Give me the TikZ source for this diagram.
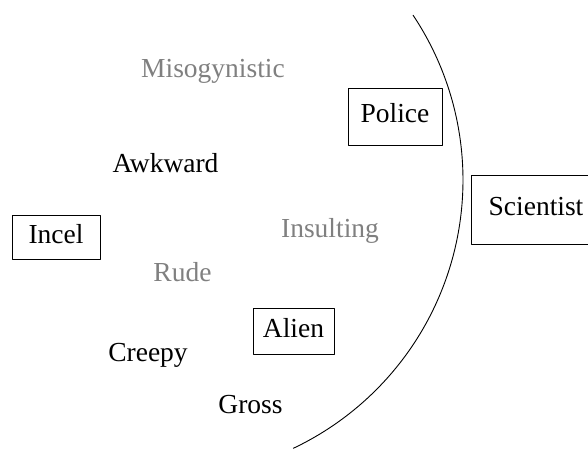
\documentclass[tikz,border=0pt]{standalone}
\usepackage{fontspec}
\setmainfont{Liberation Serif}
\usetikzlibrary{calc}

\begin{document}
\begin{tikzpicture}[x=1pt, y=1pt, line join=round, line cap=round,
  word/.style={font=\fontsize{27.5}{33}\selectfont, anchor=base, inner sep=0pt},
  faint/.style={word, text=black!50},
  tag/.style={draw, line width=0.9pt, font=\fontsize{27.5}{33}\selectfont,
    text height=19.25pt, text depth=6.9pt, inner sep=0pt}]

\useasboundingbox (0,0) rectangle (588,449);

% centre of the big circle
\coordinate (ctr) at (166,269);

% Arc
\draw[line width=0.9pt] (ctr) ++(33.7:297) arc[start angle=33.7, end angle=-64.6, radius=297];

% Boxed labels
\node[tag, minimum width=94, minimum height=57] (police) at (395,332.5) {Police};
\node[tag, minimum width=130, minimum height=69] (scientist) at (536,239.5) {Scientist};
\node[tag, minimum width=88, minimum height=44] (incel) at (56,212) {Incel};
\node[tag, minimum width=81, minimum height=46] (alien) at (293.5,118) {Alien};

% Grey words
\node[faint] (misog) at (213,371) {Misogynistic};
\node[faint] (insult) at (330,211) {Insulting};
\node[faint] (rude) at (182.5,167) {Rude};

% Black words
\node[word] (awkward) at (165.5,276) {Awkward};
\node[word] (creepy) at (148,87) {Creepy};
\node[word] (gross) at (250.5,35) {Gross};

\end{tikzpicture}
\end{document}
